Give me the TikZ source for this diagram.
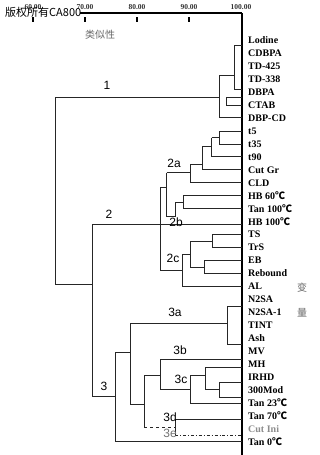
\documentclass[tikz,border=0pt]{standalone}
\usepackage{fontspec}
\setmainfont{Liberation Serif}
\newfontfamily\sansf{Liberation Sans}
\newfontfamily\cjk{Noto Sans CJK SC}
\newcommand{\degc}{{\cjk ℃}}

\begin{document}
\begin{tikzpicture}[
  x=1pt, y=-1pt,
  link/.style={draw=black!85, line width=0.9pt},
  axisline/.style={draw=black, line width=1.8pt},
  leaf/.style={anchor=west, inner sep=0pt, font=\bfseries\fontsize{10}{10}\selectfont},
  ticklab/.style={inner sep=0pt, font=\bfseries\fontsize{7.5}{7.5}\selectfont, text=black!80},
  clab/.style={inner sep=0pt, font=\sansf\fontsize{12}{12}\selectfont},
  cjklab/.style={inner sep=0pt, font=\cjk\fontsize{10}{10}\selectfont, text=black!60}
]
\useasboundingbox (0,0) rectangle (320,455);

% axis
\coordinate (ax) at (242,13);
\coordinate (a0) at (80,13);
\coordinate (axb) at (242,455);
\foreach \x/\v [count=\k] in {33/60.00,85/70.00,137/80.00,189/90.00} {
  \node[ticklab] (tk\k) at (\x,7) {\v};
  \draw[line width=1.4pt] (\x,17) -- (\x,22);
}
\node[ticklab] (tk5) at (241,7) {100.00};
\draw[line width=1.2pt] (a0) -- (ax);
\draw[axisline] (ax) -- (axb);
\node[inner sep=0pt, anchor=west, font=\cjk\fontsize{11}{11}\selectfont] (wm) at (5,12) {版权所有CA800};
\node[cjklab] (sim) at (100,35) {类似性};
\node[cjklab] (bian) at (302,288) {变};
\node[cjklab] (liang) at (302,313) {量};

% leaves
\foreach \lbl [count=\i from 0] in {Lodine,CDBPA,TD-425,TD-338,DBPA,CTAB,DBP-CD,t5,t35,t90,Cut Gr,CLD,HB 60\degc,Tan 100\degc,HB 100\degc,TS,TrS,EB,Rebound,AL,N2SA,N2SA-1,TINT,Ash,MV,MH,IRHD,300Mod,Tan 23\degc,Tan 70\degc,\textcolor{black!45}{Cut Ini},Tan 0\degc} {
  \node[leaf] (t\i) at (248,40.3+12.95*\i) {\lbl};
}

% cluster 1
\coordinate (a1) at (234.3,45);  \coordinate (a2) at (234.3,89);
\coordinate (b1) at (226.7,97);  \coordinate (b2) at (226.7,105);
\coordinate (c1) at (219.3,75);  \coordinate (c2) at (219.3,117);
\draw[link] (ax |- a1) -- (a1) -- (a2) -- (ax |- a2);
\draw[link] (ax |- b1) -- (b1) -- (b2) -- (ax |- b2);
\draw[link] (a1 |- c1) -- (c1) -- (c2) -- (ax |- c2);

% root
\coordinate (r1) at (55,97);  \coordinate (r2) at (55,284);
\coordinate (m1) at (92.3,224);  \coordinate (m2) at (92.3,396.7);
\draw[link] (c1 |- r1) -- (r1) -- (r2) -- (m1 |- r2);
\draw[link] (ax |- m1) -- (m1) -- (m2);

% cluster 2
\coordinate (g1) at (160,187.7);  \coordinate (g2) at (160,270);
\coordinate (h1) at (166.7,172.7);  \coordinate (h2) at (166.7,216.7);
\draw[link] (g1) -- (g2);
\draw[link] (g1) -- (h1 |- g1);
\draw[link] (h1) -- (h2);
% 2a
\coordinate (s1) at (190,164);  \coordinate (s2) at (190,182.8);
\coordinate (u1) at (202.7,146);  \coordinate (u2) at (202.7,169.8);
\coordinate (v1) at (211.7,137.5);  \coordinate (v2) at (211.7,156.9);
\coordinate (w1) at (219.3,131);  \coordinate (w2) at (219.3,144);
\draw[link] (h1) -- (s1 |- h1);
\draw[link] (s1) -- (s2) -- (ax |- s2);
\draw[link] (s1) -- (u1 |- s1);
\draw[link] (u1) -- (u2) -- (ax |- u2);
\draw[link] (u1) -- (v1 |- u1);
\draw[link] (v1) -- (v2) -- (ax |- v2);
\draw[link] (v1) -- (w1 |- v1);
\draw[link] (ax |- w1) -- (w1) -- (w2) -- (ax |- w2);
% 2b
\coordinate (n1) at (183,195.7);  \coordinate (n2) at (183,208.7);
\coordinate (n3) at (175,202.2);  \coordinate (n4) at (175,216.7);
\draw[link] (ax |- n1) -- (n1) -- (n2) -- (ax |- n2);
\draw[link] (n1 |- n3) -- (n3) -- (n4) -- (h2);
% 2c
\coordinate (e1) at (212.7,234.6);  \coordinate (e2) at (212.7,247.5);
\coordinate (e3) at (204.3,260.5);  \coordinate (e4) at (204.3,273.4);
\coordinate (e5) at (190,241);  \coordinate (e6) at (190,267);
\coordinate (e7) at (182.7,254);  \coordinate (e8) at (182.7,286.4);
\draw[link] (ax |- e1) -- (e1) -- (e2) -- (ax |- e2);
\draw[link] (ax |- e3) -- (e3) -- (e4) -- (ax |- e4);
\draw[link] (e1 |- e5) -- (e5) -- (e6) -- (e3 |- e6);
\draw[link] (e5 |- e7) -- (e7) -- (e8) -- (ax |- e8);
\draw[link] (g2) -- (e7 |- g2);

% cluster 3
\coordinate (k1) at (115,352.3);  \coordinate (k2) at (115,441.8);
\coordinate (f1) at (130,323);  \coordinate (f2) at (130,404.3);
\draw[link] (m2) -- (k1 |- m2);
\draw[link] (k1) -- (k2) -- (ax |- k2);
\draw[link] (k1) -- (f1 |- k1);
\draw[link] (f1) -- (f2);
% 3a
\coordinate (x1) at (227.5,306);  \coordinate (x2) at (227.5,344);
\draw[link] (f1) -- (x1 |- f1);
\draw[link] (ax |- x1) -- (x1) -- (x2) -- (ax |- x2);
% 3b, 3c
\coordinate (y1) at (144.3,375);  \coordinate (y2) at (144.3,427.3);
\coordinate (z1) at (160,359.3);  \coordinate (z2) at (160,389.3);
\coordinate (o1) at (190,375);  \coordinate (o2) at (190,403);
\coordinate (p1) at (205,367.3);  \coordinate (p2) at (205,389.3);
\coordinate (q1) at (219.3,382.7);  \coordinate (q2) at (219.3,397.3);
\draw[link] (f2) -- (y1 |- f2);
\draw[link] (y1) -- (y2);
\draw[link] (y1) -- (z1 |- y1);
\draw[link] (ax |- z1) -- (z1) -- (z2);
\draw[link] (z2) -- (o1 |- z2);
\draw[link] (o1) -- (o2) -- (ax |- o2);
\draw[link] (o1) -- (p1 |- o1);
\draw[link] (ax |- p1) -- (p1) -- (p2);
\draw[link] (p2) -- (q1 |- p2);
\draw[link] (ax |- q1) -- (q1) -- (q2) -- (ax |- q2);
% 3d, 3e
\coordinate (d1) at (175,419.3);  \coordinate (d2) at (175,435);
\draw[link, dashed] (y2) -- (d1 |- y2);
\draw[link] (ax |- d1) -- (d1) -- (d2);
\draw[link, dash dot] (d2) -- (ax |- d2);

% cluster labels
\node[clab] (l1) at (107,85) {1};
\node[clab] (l2) at (109,214) {2};
\node[clab] (l3) at (104,386) {3};
\node[clab] (l2a) at (174,163) {2a};
\node[clab] (l2b) at (176,222) {2b};
\node[clab] (l2c) at (173,258) {2c};
\node[clab] (l3a) at (175,312) {3a};
\node[clab] (l3b) at (180,350) {3b};
\node[clab] (l3c) at (181,379) {3c};
\node[clab] (l3d) at (170,417) {3d};
\node[clab, text=black!55] (l3e) at (170,433) {3e};
\end{tikzpicture}
\end{document}
